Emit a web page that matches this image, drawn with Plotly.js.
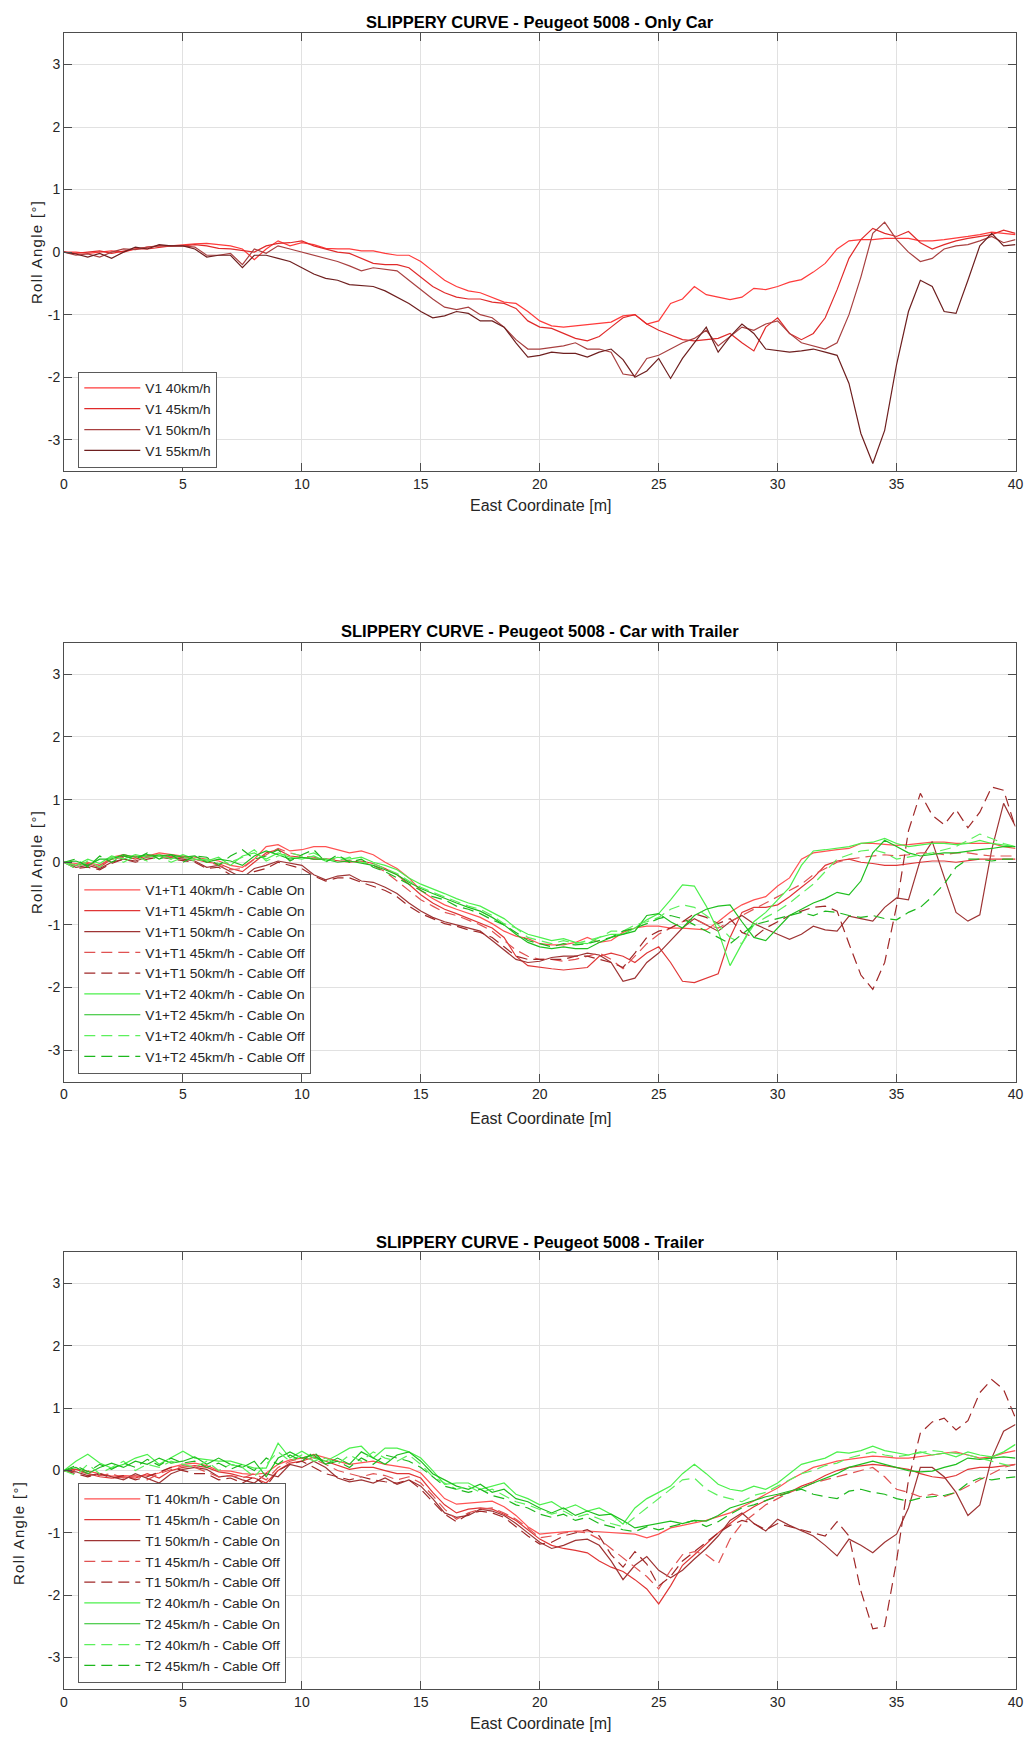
<!DOCTYPE html>
<html><head><meta charset="utf-8">
<script src="https://cdn.plot.ly/plotly-3.0.1.min.js"></script>
<style>html,body{margin:0;padding:0;background:#fff}#chart{width:1026px;height:1738px}</style>
</head><body><div id="chart"></div><script>
// East coordinate [m]
const X = [0,0.5,1,1.5,2,2.5,3,3.5,4,4.5,5,5.5,6,6.5,7,7.5,8,8.5,9,9.5,10,10.5,11,11.5,12,12.5,13,13.5,14,14.5,15,15.5,16,16.5,17,17.5,18,18.5,19,19.5,20,20.5,21,21.5,22,22.5,23,23.5,24,24.5,25,25.5,26,26.5,27,27.5,28,28.5,29,29.5,30,30.5,31,31.5,32,32.5,33,33.5,34,34.5,35,35.5,36,36.5,37,37.5,38,38.5,39,39.5,40];

// ---- Only Car ----
const V1_40 = [0,0,-0.02,0,0.02,0,0.05,0.08,0.1,0.1,
 0.12,0.13,0.14,0.12,0.1,0.05,-0.12,0.05,0.18,0.1,
 0.15,0.12,0.06,0.05,0.05,0.02,0.02,-0.02,-0.05,-0.05,
 -0.15,-0.3,-0.45,-0.55,-0.62,-0.65,-0.72,-0.8,-0.82,-0.95,
 -1.1,-1.18,-1.2,-1.18,-1.17,-1.15,-1.12,-1.02,-1.0,-1.15,
 -1.1,-0.82,-0.75,-0.55,-0.68,-0.72,-0.76,-0.72,-0.58,-0.6,
 -0.55,-0.48,-0.44,-0.32,-0.18,0.05,0.18,0.2,0.2,0.22,
 0.22,0.22,0.18,0.18,0.2,0.22,0.25,0.28,0.32,0.3,
 0.28];
const V1_45 = [0,-0.02,0,0.02,-0.02,0.02,0.05,0.05,0.08,0.1,
 0.1,0.12,0.1,0.06,0.05,0.02,0,0.1,0.14,0.15,
 0.18,0.1,0.05,0,-0.02,-0.1,-0.18,-0.2,-0.2,-0.25,
 -0.4,-0.55,-0.65,-0.72,-0.75,-0.75,-0.8,-0.82,-0.9,-1.1,
 -1.2,-1.22,-1.3,-1.38,-1.42,-1.35,-1.2,-1.05,-1.0,-1.15,
 -1.25,-1.32,-1.4,-1.42,-1.4,-1.38,-1.3,-1.45,-1.58,-1.2,
 -1.05,-1.3,-1.4,-1.3,-1.05,-0.6,-0.1,0.2,0.38,0.3,
 0.25,0.33,0.15,0.05,0.12,0.18,0.22,0.25,0.28,0.35,
 0.3];
const V1_50 = [0,-0.05,-0.03,-0.08,0,0.05,0.04,0.08,0.1,0.1,
 0.1,0.08,-0.05,-0.05,-0.02,-0.2,0.05,-0.02,0.1,0.05,
 0,-0.05,-0.1,-0.15,-0.22,-0.3,-0.25,-0.28,-0.3,-0.45,
 -0.6,-0.75,-0.88,-0.92,-0.88,-1.0,-1.05,-1.2,-1.4,-1.55,
 -1.55,-1.52,-1.5,-1.45,-1.55,-1.55,-1.6,-1.95,-1.98,-1.7,
 -1.65,-1.55,-1.45,-1.38,-1.25,-1.5,-1.35,-1.2,-1.25,-1.15,
 -1.1,-1.3,-1.45,-1.5,-1.55,-1.45,-1.0,-0.4,0.3,0.48,
 0.2,0,-0.15,-0.1,0.05,0.1,0.12,0.18,0.25,0.15,
 0.2];
const V1_55 = [0,-0.03,-0.08,-0.02,-0.1,0,0.08,0.05,0.12,0.1,
 0.1,0.05,-0.08,-0.05,-0.05,-0.25,-0.05,-0.05,-0.1,-0.15,
 -0.25,-0.35,-0.42,-0.45,-0.52,-0.53,-0.55,-0.62,-0.72,-0.82,
 -0.95,-1.05,-1.02,-0.95,-0.98,-1.1,-1.1,-1.2,-1.45,-1.68,
 -1.65,-1.6,-1.62,-1.62,-1.68,-1.6,-1.55,-1.72,-2.0,-1.9,
 -1.7,-2.02,-1.7,-1.45,-1.2,-1.6,-1.35,-1.15,-1.3,-1.55,
 -1.58,-1.6,-1.58,-1.55,-1.6,-1.65,-2.1,-2.9,-3.38,-2.85,
 -1.8,-0.95,-0.45,-0.55,-0.95,-0.98,-0.45,0.1,0.3,0.1,
 0.12];

// ---- Car with Trailer ----
const VT1_40_ON = [0,-0.02,0,-0.05,0.08,0.12,0.08,0.1,0.15,0.12,
 0.1,0.08,0.05,0.02,-0.05,-0.08,0.05,0.25,0.28,0.18,
 0.2,0.25,0.25,0.2,0.15,0.18,0.12,0,-0.1,-0.25,
 -0.45,-0.58,-0.68,-0.75,-0.82,-0.88,-0.98,-1.1,-1.18,-1.22,
 -1.3,-1.32,-1.32,-1.28,-1.2,-1.28,-1.25,-1.12,-1.05,-1.02,
 -1.02,-1.05,-1.05,-1.06,-1.08,-0.95,-0.8,-0.68,-0.6,-0.55,
 -0.38,-0.25,0.05,0.15,0.18,0.2,0.22,0.3,0.3,0.28,
 0.27,0.28,0.3,0.32,0.32,0.3,0.3,0.3,0.3,0.25,
 0.22];
const VT1_45_ON = [0,-0.05,-0.02,-0.08,0.05,0.1,0.05,0.1,0.12,0.1,
 0.08,0.05,0,-0.02,-0.1,-0.15,0,0.15,0.2,0.1,
 0.08,0.05,0.05,0.02,0,0.02,-0.02,-0.1,-0.2,-0.35,
 -0.52,-0.65,-0.75,-0.82,-0.9,-0.98,-1.05,-1.2,-1.5,-1.65,
 -1.68,-1.7,-1.72,-1.7,-1.68,-1.5,-1.45,-1.5,-1.6,-1.45,
 -1.35,-1.6,-1.9,-1.92,-1.85,-1.78,-1.2,-0.8,-0.72,-0.72,
 -0.68,-0.55,-0.4,-0.25,-0.05,0.02,0.05,0,-0.02,-0.05,
 -0.05,-0.02,0,0.02,0.02,0,0.02,0.05,0.05,0.05,
 0.05];
const VT1_50_ON = [0,-0.08,-0.05,-0.1,0,0.05,0.02,0.08,0.1,0.08,
 0.05,0.02,-0.08,-0.05,-0.15,-0.25,-0.1,-0.05,0.02,-0.02,
 -0.05,-0.2,-0.28,-0.22,-0.2,-0.3,-0.32,-0.4,-0.5,-0.65,
 -0.78,-0.88,-0.95,-1.0,-1.05,-1.1,-1.25,-1.4,-1.55,-1.6,
 -1.58,-1.52,-1.5,-1.5,-1.45,-1.48,-1.6,-1.9,-1.85,-1.6,
 -1.45,-1.25,-1.05,-0.9,-1.0,-1.1,-0.95,-0.85,-0.98,-1.07,
 -1.15,-1.23,-1.15,-1.02,-1.08,-1.1,-0.86,-0.9,-0.94,-0.72,
 -0.57,-0.6,0.04,0.33,-0.25,-0.8,-0.94,-0.84,0.2,0.94,
 0.57];
const VT1_45_OFF = [0,-0.05,-0.03,-0.05,0.05,0.08,0.1,0.08,0.12,0.08,
 0.1,0.05,0.02,-0.05,-0.12,-0.1,0.05,0.12,0.22,0.15,
 0.1,0.08,0.05,0.05,0.02,0,-0.05,-0.15,-0.3,-0.45,
 -0.6,-0.7,-0.8,-0.85,-0.92,-1.0,-1.1,-1.25,-1.4,-1.5,
 -1.55,-1.55,-1.58,-1.55,-1.5,-1.45,-1.55,-1.7,-1.5,-1.3,
 -1.15,-1.05,-0.95,-0.9,-1.0,-1.05,-0.95,-0.85,-0.75,-0.65,
 -0.55,-0.45,-0.35,-0.2,-0.1,0,0.05,0.08,0.1,0.12,
 0.1,0.12,0.15,0.15,0.12,0.15,0.15,0.12,0.1,0.1,
 0.1];
const VT1_50_OFF = [0,-0.1,-0.08,-0.12,-0.02,0.05,0,0.05,0.08,0.05,
 0.02,0,-0.1,-0.08,-0.2,-0.3,-0.15,-0.1,0,-0.05,
 -0.1,-0.22,-0.3,-0.25,-0.25,-0.32,-0.38,-0.45,-0.55,-0.7,
 -0.82,-0.9,-0.98,-1.02,-1.08,-1.12,-1.2,-1.35,-1.5,-1.55,
 -1.55,-1.55,-1.55,-1.5,-1.5,-1.55,-1.6,-1.68,-1.45,-1.2,
 -1.1,-1.05,-0.95,-0.82,-0.88,-0.98,-0.9,-1.12,-1.2,-1.05,
 -0.95,-0.85,-0.78,-0.72,-0.7,-0.78,-1.3,-1.8,-2.03,-1.6,
 -0.7,0.5,1.1,0.75,0.6,0.84,0.55,0.8,1.2,1.15,
 0.55];
const VT2_40_ON = [0,-0.05,0.05,-0.02,0.1,0.05,0.12,0.08,0.12,0.05,
 0.12,0.05,0.02,0.08,-0.05,0.1,0.15,0.05,0.15,0.08,
 0.05,0.1,0.02,0.08,0.05,0.08,0,-0.05,-0.12,-0.25,
 -0.35,-0.42,-0.5,-0.58,-0.65,-0.7,-0.8,-0.9,-1.05,-1.15,
 -1.2,-1.25,-1.22,-1.28,-1.3,-1.2,-1.15,-1.15,-1.05,-0.92,
 -0.82,-0.6,-0.36,-0.38,-0.7,-1.1,-1.65,-1.3,-0.95,-0.8,
 -0.6,-0.4,-0.05,0.18,0.2,0.22,0.25,0.3,0.32,0.38,
 0.3,0.25,0.28,0.3,0.3,0.28,0.3,0.35,0.3,0.28,
 0.25];
const VT2_45_ON = [0,0.02,-0.05,0.05,0.05,0.12,0.08,0.12,0.1,0.12,
 0.08,0.1,0,0.05,0.02,-0.05,0.1,0.18,0.12,0.05,
 0.08,0.05,0.05,0,0.02,-0.02,-0.05,-0.12,-0.2,-0.32,
 -0.42,-0.5,-0.58,-0.65,-0.72,-0.78,-0.88,-1.0,-1.15,-1.28,
 -1.35,-1.38,-1.35,-1.38,-1.38,-1.28,-1.2,-1.15,-1.1,-0.85,
 -0.82,-0.95,-1.05,-0.85,-0.75,-0.7,-0.68,-0.95,-1.2,-1.25,
 -1.05,-0.85,-0.75,-0.65,-0.58,-0.48,-0.52,-0.3,0.15,0.35,
 0.25,0.15,0.1,0.12,0.15,0.15,0.18,0.2,0.22,0.25,
 0.25];
const VT2_40_OFF = [0,-0.1,0.02,-0.08,0.08,0,0.1,0.02,0.1,0,
 0.08,0.02,0.05,-0.02,0,0.08,0.2,0.02,0.1,0.15,
 0.1,0.15,0.05,0.02,0.08,0,-0.02,-0.1,-0.18,-0.3,
 -0.4,-0.48,-0.55,-0.62,-0.7,-0.75,-0.85,-0.98,-1.05,-1.2,
 -1.25,-1.3,-1.25,-1.3,-1.25,-1.2,-1.1,-1.1,-1.0,-0.95,
 -0.88,-0.75,-0.68,-0.72,-0.85,-1.0,-1.2,-1.3,-1.0,-0.88,
 -0.78,-0.65,-0.5,-0.35,-0.15,0.05,0.12,0.18,0.2,0.15,
 0.05,0.08,0.12,0.15,0.2,0.25,0.35,0.45,0.38,0.3,
 0.25];
const VT2_45_OFF = [0,0.05,-0.08,0.1,0,0.1,0.05,0.15,0.05,0.12,
 0,0.1,0.08,-0.05,0.1,0.2,0.05,0.1,0.2,0.02,
 0.12,0.2,0,0.12,0,0.05,-0.08,-0.15,-0.25,-0.35,
 -0.45,-0.55,-0.6,-0.7,-0.75,-0.82,-0.92,-1.0,-1.12,-1.25,
 -1.3,-1.35,-1.3,-1.32,-1.3,-1.25,-1.2,-1.1,-1.05,-0.98,
 -0.9,-0.85,-0.9,-1.0,-1.1,-1.2,-1.3,-1.15,-1.0,-0.95,
 -0.9,-0.85,-0.8,-0.85,-0.78,-0.8,-0.85,-0.88,-0.85,-0.9,
 -0.92,-0.8,-0.72,-0.55,-0.35,-0.08,0.05,0.05,0.02,0.05,
 0.05];

// ---- Trailer ----
const T1_40_ON = [0,0.02,-0.01,-0.05,-0.09,-0.08,-0.09,-0.08,-0.04,0.05,
 0.1,0.12,0.08,0,-0.01,-0.05,-0.06,-0.04,0.1,0.17,
 0.2,0.26,0.2,0.15,0.1,0.12,0.15,0.1,0.07,0.04,
 -0.04,-0.25,-0.45,-0.54,-0.52,-0.5,-0.49,-0.58,-0.72,-0.9,
 -1.02,-1.0,-0.98,-0.97,-0.97,-0.98,-1.0,-1.0,-1.02,-1.08,
 -1.02,-0.92,-0.88,-0.85,-0.8,-0.74,-0.68,-0.58,-0.49,-0.38,
 -0.28,-0.15,-0.05,0.05,0.1,0.15,0.18,0.2,0.23,0.22,
 0.2,0.2,0.22,0.25,0.28,0.3,0.25,0.2,0.22,0.28,
 0.32];
const T1_45_ON = [0,0.02,-0.05,-0.1,-0.12,-0.1,-0.12,-0.05,-0.12,0,
 0.05,0.08,0.05,-0.02,-0.05,-0.1,-0.12,-0.2,0,0.12,
 0.15,0.22,0.15,0.08,0.02,0.05,0.05,0,-0.05,-0.05,
 -0.12,-0.35,-0.55,-0.68,-0.62,-0.6,-0.62,-0.7,-0.8,-0.95,
 -1.1,-1.2,-1.25,-1.28,-1.32,-1.45,-1.55,-1.62,-1.75,-1.9,
 -2.14,-1.85,-1.52,-1.35,-1.18,-1.0,-0.85,-0.7,-0.58,-0.48,
 -0.4,-0.35,-0.25,-0.18,-0.08,0,0.05,0.08,0.1,0.08,
 0.05,0.02,-0.05,-0.1,-0.12,-0.08,0.02,0.05,0.05,0.08,
 0.1];
const T1_50_ON = [0,-0.02,-0.08,-0.05,-0.1,-0.15,-0.05,-0.12,-0.2,-0.05,
 0.02,0.05,0.02,-0.1,-0.08,-0.15,-0.2,-0.05,-0.1,0.1,
 0.05,0.15,0.05,-0.12,-0.18,-0.15,-0.2,-0.12,-0.22,-0.15,
 -0.25,-0.45,-0.68,-0.75,-0.72,-0.62,-0.65,-0.72,-0.85,-1.0,
 -1.15,-1.25,-1.2,-1.12,-1.1,-1.2,-1.45,-1.75,-1.52,-1.38,
 -1.6,-1.72,-1.6,-1.42,-1.25,-1.05,-0.8,-0.68,-0.85,-0.97,
 -0.78,-0.88,-0.97,-1.05,-1.2,-1.37,-1.1,-1.2,-1.32,-1.15,
 -1.02,-0.6,0.05,0.05,-0.1,-0.35,-0.72,-0.55,0.2,0.63,
 0.74];
const T1_45_OFF = [0,0,-0.05,-0.08,-0.05,-0.12,-0.08,-0.15,-0.05,0.02,
 0.08,0.05,-0.02,-0.1,-0.08,-0.12,-0.05,-0.15,0.05,0.15,
 0.2,0.18,0.1,0,-0.05,-0.1,-0.05,-0.08,-0.15,-0.1,
 -0.2,-0.4,-0.62,-0.78,-0.68,-0.62,-0.6,-0.68,-0.78,-0.92,
 -1.08,-1.05,-1.0,-0.98,-1.0,-1.1,-1.25,-1.4,-1.55,-1.7,
 -1.9,-1.6,-1.35,-1.3,-1.35,-1.5,-1.1,-0.85,-0.7,-0.55,
 -0.45,-0.35,-0.28,-0.2,-0.15,-0.1,-0.05,0,0.05,-0.1,
 -0.3,-0.35,-0.42,-0.38,-0.42,-0.35,-0.25,-0.15,-0.05,0.05,
 0.1];
const T1_50_OFF = [0,-0.05,-0.1,-0.05,-0.12,-0.08,-0.15,-0.1,-0.02,0.05,
 0,-0.05,-0.05,-0.15,-0.12,-0.2,-0.1,-0.25,0,0.1,
 0.15,0.05,-0.05,-0.1,-0.15,-0.1,-0.15,-0.18,-0.2,-0.15,
 -0.3,-0.5,-0.7,-0.82,-0.7,-0.65,-0.68,-0.75,-0.9,-1.05,
 -1.18,-1.15,-1.05,-1.0,-0.95,-1.05,-1.35,-1.55,-1.3,-1.5,
 -1.85,-1.7,-1.45,-1.3,-1.15,-1.0,-0.88,-0.8,-0.85,-0.95,
 -0.85,-0.9,-0.95,-1.0,-1.05,-0.82,-1.05,-1.93,-2.54,-2.5,
 -1.45,-0.15,0.6,0.78,0.84,0.65,0.8,1.25,1.46,1.3,
 0.84];
const T2_40_ON = [0,0.15,0.26,0.12,0.04,0.1,0.2,0.26,0.1,0.2,
 0.31,0.2,0.18,0.15,0.15,0.1,0.04,0.04,0.44,0.2,
 0.31,0.2,0.15,0.25,0.36,0.39,0.2,0.36,0.36,0.3,
 0.2,0,-0.22,-0.2,-0.2,-0.3,-0.25,-0.2,-0.38,-0.45,
 -0.55,-0.5,-0.62,-0.55,-0.65,-0.6,-0.7,-0.86,-0.6,-0.45,
 -0.35,-0.25,-0.05,0.1,-0.05,-0.22,-0.3,-0.33,-0.25,-0.3,
 -0.2,-0.05,0.1,0.15,0.2,0.3,0.28,0.32,0.39,0.32,
 0.28,0.25,0.3,0.25,0.28,0.22,0.3,0.25,0.22,0.3,
 0.42];
const T2_45_ON = [0,0.05,-0.05,0.05,0.12,0.05,0.15,0.1,0.2,0.12,
 0.15,0.22,0.1,0.2,0.1,0.05,0.15,-0.1,0.2,0.3,
 0.2,0.25,0.1,0.2,0.1,0.3,0.2,0.1,0.25,0.3,
 0.15,-0.05,-0.15,-0.25,-0.3,-0.22,-0.35,-0.3,-0.45,-0.5,
 -0.6,-0.68,-0.6,-0.72,-0.65,-0.72,-0.7,-0.8,-0.92,-0.88,
 -0.85,-0.81,-0.85,-0.8,-0.81,-0.72,-0.6,-0.54,-0.48,-0.42,
 -0.38,-0.33,-0.28,-0.2,-0.12,-0.05,0.05,0.1,0.15,0.1,
 0.05,0,-0.02,-0.01,0.05,0.1,0.2,0.18,0.2,0.22,
 0.2];
const T2_40_OFF = [0,-0.08,0.1,-0.05,0.05,0.15,0,0.1,0.05,0.15,
 0.1,0.05,0.15,0,0.1,0.05,-0.1,0.1,0.3,0.15,
 0.25,0.15,0.2,0.1,0.25,0.15,0.3,0.2,0.15,0.25,
 0.1,-0.1,-0.2,-0.3,-0.25,-0.35,-0.3,-0.4,-0.5,-0.55,
 -0.62,-0.7,-0.65,-0.75,-0.7,-0.78,-0.85,-0.9,-0.75,-0.6,
 -0.45,-0.3,-0.15,-0.12,-0.3,-0.4,-0.45,-0.5,-0.4,-0.35,
 -0.25,-0.15,-0.05,0,0.08,0.12,0.2,0.25,0.3,0.25,
 0.22,0.25,0.28,0.32,0.3,0.28,0.25,0.2,0.15,0.1,
 0.05];
const T2_45_OFF = [0,0.08,-0.02,0.1,0.02,0.12,0.05,0.18,0.08,0.2,
 0.12,0.15,0.05,0.12,0.02,0.1,0,0.2,0.1,0.25,
 0.15,0.3,0.1,0.15,0.05,0.2,0.1,0.25,0.2,0.15,
 0.05,-0.1,-0.25,-0.3,-0.35,-0.3,-0.4,-0.45,-0.55,-0.6,
 -0.7,-0.75,-0.7,-0.8,-0.75,-0.85,-0.9,-0.95,-0.98,-0.9,
 -0.95,-0.9,-0.85,-0.8,-0.9,-0.82,-0.7,-0.6,-0.55,-0.48,
 -0.42,-0.35,-0.3,-0.38,-0.42,-0.45,-0.33,-0.3,-0.35,-0.38,
 -0.45,-0.49,-0.44,-0.42,-0.4,-0.35,-0.2,-0.12,-0.15,-0.12,
 -0.1];

// Tick labels
const X_TICKS = [0,5,10,15,20,25,30,35,40];
const Y_TICKS = [-3,-2,-1,0,1,2,3];
const Y_TICKTEXT = ['-3','-2','-1','0','1','2','3'];

const TITLES = ['SLIPPERY CURVE - Peugeot 5008 - Only Car',
                'SLIPPERY CURVE - Peugeot 5008 - Car with Trailer',
                'SLIPPERY CURVE - Peugeot 5008 - Trailer'];

// Colours / styles
const C = {
  r40:'#ff3b3b', r45:'#e02a2a', r50:'#a84040', r55:'#6e1f1f',
  t40on:'#ff5252', t45on:'#e03636', t50on:'#9e3434', t45off:'#e05252', t50off:'#a02828',
  g40on:'#4cf04c', g45on:'#1fbf1f', g40off:'#5cf05c', g45off:'#1db81d'
};

const series = [
  // [name, y, color, dash, subplot]
  ['V1 40km/h', V1_40, C.r40, 'solid', 1],
  ['V1 45km/h', V1_45, C.r45, 'solid', 1],
  ['V1 50km/h', V1_50, C.r50, 'solid', 1],
  ['V1 55km/h', V1_55, C.r55, 'solid', 1],
  ['V1+T1 40km/h - Cable On', VT1_40_ON, C.t40on, 'solid', 2],
  ['V1+T1 45km/h - Cable On', VT1_45_ON, C.t45on, 'solid', 2],
  ['V1+T1 50km/h - Cable On', VT1_50_ON, C.t50on, 'solid', 2],
  ['V1+T1 45km/h - Cable Off', VT1_45_OFF, C.t45off, 'dash', 2],
  ['V1+T1 50km/h - Cable Off', VT1_50_OFF, C.t50off, 'dash', 2],
  ['V1+T2 40km/h - Cable On', VT2_40_ON, C.g40on, 'solid', 2],
  ['V1+T2 45km/h - Cable On', VT2_45_ON, C.g45on, 'solid', 2],
  ['V1+T2 40km/h - Cable Off', VT2_40_OFF, C.g40off, 'dash', 2],
  ['V1+T2 45km/h - Cable Off', VT2_45_OFF, C.g45off, 'dash', 2],
  ['T1 40km/h - Cable On', T1_40_ON, C.t40on, 'solid', 3],
  ['T1 45km/h - Cable On', T1_45_ON, C.t45on, 'solid', 3],
  ['T1 50km/h - Cable On', T1_50_ON, C.t50on, 'solid', 3],
  ['T1 45km/h - Cable Off', T1_45_OFF, C.t45off, 'dash', 3],
  ['T1 50km/h - Cable Off', T1_50_OFF, C.t50off, 'dash', 3],
  ['T2 40km/h - Cable On', T2_40_ON, C.g40on, 'solid', 3],
  ['T2 45km/h - Cable On', T2_45_ON, C.g45on, 'solid', 3],
  ['T2 40km/h - Cable Off', T2_40_OFF, C.g40off, 'dash', 3],
  ['T2 45km/h - Cable Off', T2_45_OFF, C.g45off, 'dash', 3]
];

const traces = series.map(s => ({
  type:'scatter', mode:'lines', name:s[0], x:X, y:s[1],
  xaxis: s[4]===1 ? 'x' : 'x'+s[4],
  yaxis: s[4]===1 ? 'y' : 'y'+s[4],
  legend: s[4]===1 ? 'legend' : 'legend'+s[4],
  line:{color:s[2], width:1.2, dash: s[3]==='dash' ? '11px,6px' : 'solid'},
  hoverinfo:'skip'
}));

const W = 1026, H = 1738;
const FONT = 'Liberation Sans, Arial, Helvetica, sans-serif';
const xDom = [64/W, 1015.5/W];
const yDoms = [[1-471/H, 1-33.2/H],[1-1081.5/H, 1-643/H],[1-1688.7/H, 1-1252.4/H]];

function xAx(i){
  return {domain:xDom, anchor: i===1?'y':'y'+i, range:[0,40], tickvals:X_TICKS,
    showgrid:true, gridcolor:'#e1e1e1', gridwidth:1, zeroline:false,
    showline:true, linecolor:'#4d4d4d', linewidth:1, mirror:'ticks',
    ticks:'inside', ticklen:8, tickcolor:'#4d4d4d', tickwidth:1,
    tickfont:{family:FONT, size:14, color:'#262626'}};
}
function yAx(i){
  return {domain:yDoms[i-1], anchor: i===1?'x':'x'+i, range:[-3.5,3.5], tickvals:Y_TICKS, ticktext:Y_TICKTEXT,
    showgrid:true, gridcolor:'#e1e1e1', gridwidth:1, zeroline:false,
    showline:true, linecolor:'#4d4d4d', linewidth:1, mirror:'ticks',
    ticks:'inside', ticklen:8, tickcolor:'#4d4d4d', tickwidth:1,
    tickfont:{family:FONT, size:14, color:'#262626'}};
}
function leg(topPx){
  return {x:78.3/W, y:1-topPx/H, xanchor:'left', yanchor:'top', bgcolor:'#ffffff',
    bordercolor:'#5a5a5a', borderwidth:1, itemwidth:56, tracegroupgap:0,
    font:{family:FONT, size:13.7, color:'#262626'}, itemclick:false, itemdoubleclick:false};
}

const titleY = [22, 630.5, 1241.8];
const xTitleY = [505.6, 1118, 1723.8];
const yTitle = [[36, 252],[36, 862],[18, 1533]];
const annotations = [];
for (let i=0;i<3;i++){
  annotations.push({xref:'paper', yref:'paper', x:540/W, y:1-titleY[i]/H, xanchor:'center', yanchor:'middle',
    text:'<b>'+TITLES[i]+'</b>', showarrow:false, font:{family:FONT, size:16.5, color:'#000'}});
  annotations.push({xref:'paper', yref:'paper', x:540/W, y:1-xTitleY[i]/H, xanchor:'center', yanchor:'middle',
    text:'East Coordinate [m]', showarrow:false, font:{family:FONT, size:16, color:'#262626'}});
  annotations.push({xref:'paper', yref:'paper', x:yTitle[i][0]/W, y:1-yTitle[i][1]/H, xanchor:'center', yanchor:'middle',
    text:'Roll Angle [°]', textangle:-90, showarrow:false, font:{family:FONT, size:15, color:'#262626'}});
}

const layout = {
  width:W, height:H, margin:{l:0,r:0,t:0,b:0}, paper_bgcolor:'#fff', plot_bgcolor:'#fff',
  showlegend:true,
  xaxis:xAx(1), yaxis:yAx(1), xaxis2:xAx(2), yaxis2:yAx(2), xaxis3:xAx(3), yaxis3:yAx(3),
  legend:leg(371.5), legend2:leg(873.5), legend3:leg(1482.5),
  annotations:annotations
};

Plotly.newPlot('chart', traces, layout, {staticPlot:true, displayModeBar:false}).then(function(){
  document.querySelectorAll('.annotation-text').forEach(function(t){
    if (t.textContent.indexOf('Roll Angle') === 0) t.style.letterSpacing = '1.3px';
  });
});
</script></body></html>
